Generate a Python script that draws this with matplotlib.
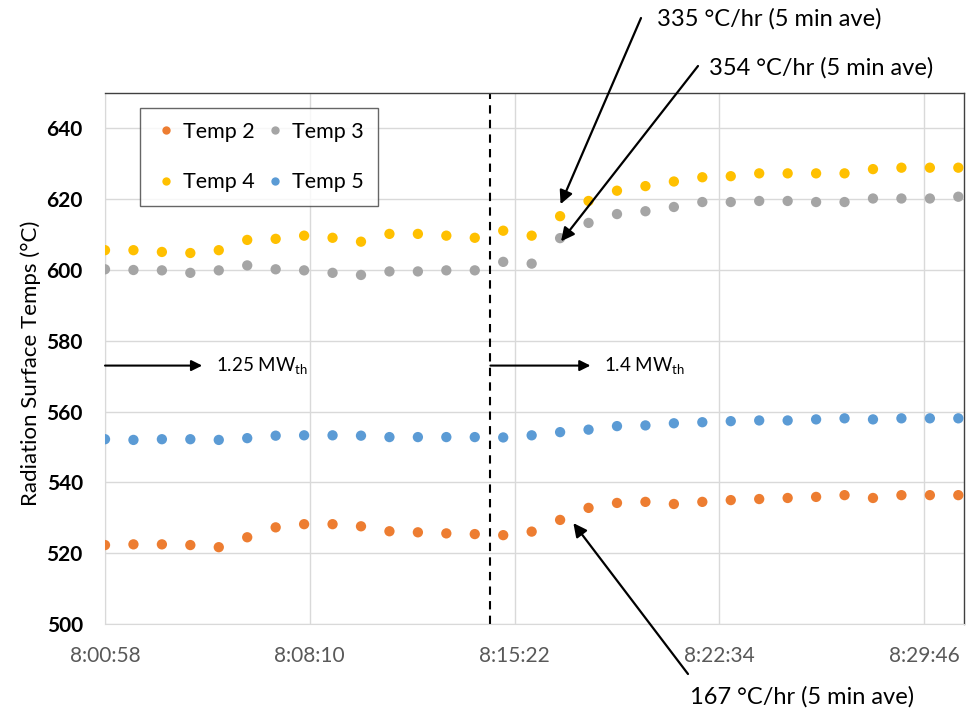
import matplotlib
matplotlib.use("Agg")
import matplotlib.pyplot as plt
from matplotlib.lines import Line2D

plt.rcParams['font.family'] = ['Lato', 'DejaVu Sans']

times = ['8:00:58', '8:01:58', '8:02:58', '8:03:58', '8:04:58', '8:05:58', '8:06:58', '8:07:58',
         '8:08:58', '8:09:58', '8:10:58', '8:11:58', '8:12:58', '8:13:58', '8:14:58', '8:15:58',
         '8:16:58', '8:17:58', '8:18:58', '8:19:58', '8:20:58', '8:21:58', '8:22:58', '8:23:58',
         '8:24:58', '8:25:58', '8:26:58', '8:27:58', '8:28:58', '8:29:58', '8:30:58']

temp2 = [522.3, 522.5, 522.5, 522.3, 521.7, 524.5, 527.3, 528.2, 528.2, 527.6, 526.2, 525.9,
         525.6, 525.4, 525.1, 526.1, 529.4, 532.8, 534.2, 534.5, 533.9, 534.5, 535.0, 535.3,
         535.6, 535.9, 536.4, 535.6, 536.4, 536.4, 536.4]
temp3 = [600.2, 600.0, 599.9, 599.2, 599.9, 601.3, 600.2, 599.9, 599.2, 598.6, 599.6, 599.6,
         599.9, 599.9, 602.3, 601.8, 609.0, 613.3, 615.8, 616.6, 617.8, 619.2, 619.2, 619.5,
         619.5, 619.2, 619.2, 620.2, 620.2, 620.2, 620.7]
temp4 = [605.6, 605.6, 605.1, 604.8, 605.6, 608.5, 608.8, 609.7, 609.1, 608.0, 610.2, 610.2,
         609.7, 609.1, 611.1, 609.7, 615.2, 619.5, 622.4, 623.7, 625.0, 626.2, 626.5, 627.3,
         627.3, 627.3, 627.3, 628.5, 628.9, 628.9, 628.9]
temp5 = [552.2, 552.0, 552.2, 552.2, 552.0, 552.5, 553.2, 553.3, 553.3, 553.2, 552.8, 552.8,
         552.8, 552.8, 552.7, 553.3, 554.2, 554.9, 555.9, 556.1, 556.7, 557.0, 557.3, 557.5,
         557.5, 557.8, 558.1, 557.8, 558.1, 558.1, 558.1]

series_names = ['Temp 2', 'Temp 3', 'Temp 4', 'Temp 5']
series_colors = ['#ED7D31', '#A5A5A5', '#FFC000', '#5B9BD5']

xtick_labels = ['8:00:58', '8:08:10', '8:15:22', '8:22:34', '8:29:46']
yticks = [500, 520, 540, 560, 580, 600, 620, 640]

power_change_time = '8:14:31'
x_end_time = '8:31:10'


def secs(s):
    h, m, sec = (int(p) for p in s.split(':'))
    return h * 3600 + m * 60 + sec


t0 = secs(times[0])
x = [secs(s) - t0 for s in times]
xticks = [secs(s) - t0 for s in xtick_labels]
x_change = secs(power_change_time) - t0
x_end = secs(x_end_time) - t0

fig = plt.figure(figsize=(9.74, 7.12), dpi=100)
ax = fig.add_axes([105 / 974, 1 - 624 / 712, (964 - 105) / 974, (624 - 93) / 712])

grid_c = '#D9D9D9'
for name, ys, c in zip(series_names, [temp2, temp3, temp4, temp5], series_colors):
    ax.scatter(x, ys, s=55, color=c, edgecolors='none', zorder=3, label=name)

ax.set_xlim(0, x_end)
ax.set_ylim(500, 650)
ax.set_yticks(yticks)
ax.set_xticks(xticks)
ax.set_xticklabels(xtick_labels)
ax.grid(True, color=grid_c, lw=1, zorder=0)
ax.set_axisbelow(True)
ax.tick_params(axis='both', length=0)
ax.tick_params(axis='x', pad=16, labelsize=15, labelcolor='#595959')
ax.tick_params(axis='y', pad=16, labelsize=15)
for lab in ax.get_yticklabels():
    lab.set_fontweight('bold')
for side in ['left', 'bottom']:
    ax.spines[side].set_color(grid_c)
for side in ['top', 'right']:
    ax.spines[side].set_color('#404040')
    ax.spines[side].set_linewidth(1.0)

ax.set_ylabel('Radiation Surface Temps (°C)', fontsize=16)
ax.yaxis.set_label_coords(-0.074, 0.49)

# dashed line at power change
ax.axvline(x_change, color='black', ls=(0, (4, 3)), lw=1.5, zorder=2)

# power arrows
arr = dict(arrowstyle='-|>', color='black', lw=1.5, mutation_scale=16, shrinkA=0, shrinkB=0)
ax.annotate('', xy=(205, 573), xytext=(0, 573), arrowprops=arr)
ax.text(234, 573, '1.25 MW$\\mathregular{_{th}}$', fontsize=13.5, va='center', ha='left')
ax.annotate('', xy=(1024, 573), xytext=(x_change, 573), arrowprops=arr)
ax.text(1052, 573, '1.4 MW$\\mathregular{_{th}}$', fontsize=13.5, va='center', ha='left')

# rate annotations
arr2 = dict(arrowstyle='-|>', color='black', lw=1.6, mutation_scale=20, shrinkA=0, shrinkB=0)
ax.annotate('', xy=(x[16] + 1, temp4[16] + 3.4), xytext=(641, 712 - 18),
            textcoords='figure pixels', arrowprops=arr2, annotation_clip=False)
ax.annotate('', xy=(x[16] + 2, temp3[16] - 0.9), xytext=(698, 712 - 66),
            textcoords='figure pixels', arrowprops=arr2, annotation_clip=False)
ax.annotate('', xy=(x[16] + 28, temp2[16] - 0.9), xytext=(688, 712 - 674),
            textcoords='figure pixels', arrowprops=arr2, annotation_clip=False)

fig.text(657 / 974, 1 - 19 / 712, '335 °C/hr (5 min ave)', fontsize=17, va='center', ha='left')
fig.text(709 / 974, 1 - 68 / 712, '354 °C/hr (5 min ave)', fontsize=17, va='center', ha='left')
fig.text(690 / 974, 1 - 697 / 712, '167 °C/hr (5 min ave)', fontsize=17, va='center', ha='left')

# legend: rows Temp2 Temp3 / Temp4 Temp5
order = [0, 2, 1, 3]
handles = [Line2D([], [], ls='none', marker='o', markersize=6, markerfacecolor=series_colors[i],
                  markeredgecolor='none') for i in order]
labels = [series_names[i] for i in order]
leg = ax.legend(handles, labels, ncol=2, loc='upper left', bbox_to_anchor=((140 - 105) / 859, (624 - 108) / 531),
                borderaxespad=0, fontsize=15.5, frameon=True, fancybox=False, edgecolor='#404040',
                labelspacing=1.4, columnspacing=0.4, handletextpad=0.25, handlelength=1.1,
                borderpad=0.65)
leg.get_frame().set_linewidth(1.0)

fig.savefig('out.png', dpi=100)
